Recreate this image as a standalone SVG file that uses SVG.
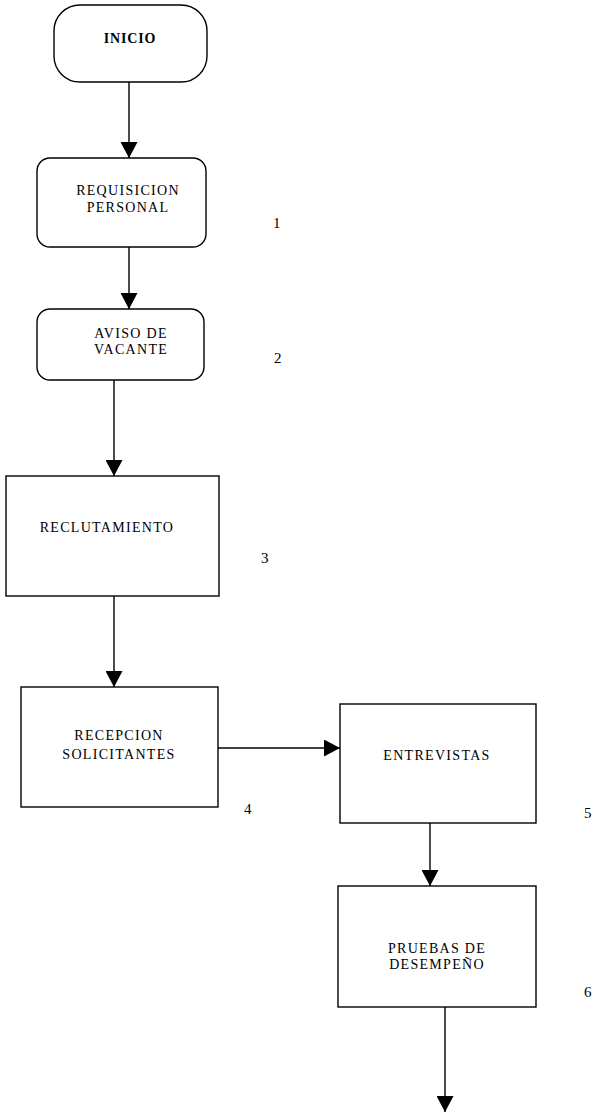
<svg xmlns="http://www.w3.org/2000/svg" width="597" height="1112" viewBox="0 0 597 1112">
<style>
.box{fill:#fff;stroke:#000;stroke-width:1.4}
.lbl{font-family:"Liberation Serif","Times New Roman",serif;font-size:14px;letter-spacing:1.3px;text-anchor:middle;fill:#000}
.num{font-family:"Liberation Serif","Times New Roman",serif;font-size:15px;fill:#000}
.con{fill:none;stroke:#000;stroke-width:1.4}
</style>
<defs>
<marker id="ah" markerUnits="userSpaceOnUse" markerWidth="17" markerHeight="17" refX="16" refY="8.5" orient="auto" viewBox="0 0 17 17">
<path d="M0,0 L16,8.5 L0,17 z" fill="#000"/>
</marker>
</defs>
<rect width="597" height="1112" fill="#fff"/>
<g id="connectors">
<line class="con" x1="129" y1="82" x2="129" y2="158" marker-end="url(#ah)"/>
<line class="con" x1="129" y1="247" x2="129" y2="309" marker-end="url(#ah)"/>
<line class="con" x1="114" y1="380" x2="114" y2="476" marker-end="url(#ah)"/>
<line class="con" x1="114" y1="596" x2="114" y2="687" marker-end="url(#ah)"/>
<line class="con" x1="218" y1="748" x2="340" y2="748" marker-end="url(#ah)"/>
<line class="con" x1="430" y1="823" x2="430" y2="886" marker-end="url(#ah)"/>
<line class="con" x1="445" y1="1007" x2="445" y2="1112" marker-end="url(#ah)"/>
</g>
<g id="inicio">
<rect class="box" x="54" y="5" width="153" height="77" rx="26" ry="26"/>
<text class="lbl" x="130" y="43" style="font-weight:bold;font-size:14px;letter-spacing:0.8px">INICIO</text>
</g>
<g id="requisicion">
<rect class="box" x="37" y="158" width="169" height="89" rx="13" ry="13"/>
<text class="lbl" x="128" y="195">REQUISICION</text>
<text class="lbl" x="128" y="212">PERSONAL</text>
<text class="num" x="273" y="228">1</text>
</g>
<g id="aviso">
<rect class="box" x="37" y="309" width="167" height="71" rx="13" ry="13"/>
<text class="lbl" x="131" y="338">AVISO DE</text>
<text class="lbl" x="131" y="354">VACANTE</text>
<text class="num" x="274" y="363">2</text>
</g>
<g id="reclutamiento">
<rect class="box" x="6" y="476" width="213" height="120"/>
<text class="lbl" x="107" y="532">RECLUTAMIENTO</text>
<text class="num" x="261" y="563">3</text>
</g>
<g id="recepcion">
<rect class="box" x="21" y="687" width="197" height="120"/>
<text class="lbl" x="119" y="740">RECEPCION</text>
<text class="lbl" x="119" y="759">SOLICITANTES</text>
<text class="num" x="244" y="814">4</text>
</g>
<g id="entrevistas">
<rect class="box" x="340" y="704" width="196" height="119"/>
<text class="lbl" x="437" y="760">ENTREVISTAS</text>
<text class="num" x="584" y="818">5</text>
</g>
<g id="pruebas">
<rect class="box" x="338" y="886" width="198" height="121"/>
<text class="lbl" x="437" y="953">PRUEBAS DE</text>
<text class="lbl" x="437" y="969">DESEMPEÑO</text>
<text class="num" x="584" y="997">6</text>
</g>
</svg>
